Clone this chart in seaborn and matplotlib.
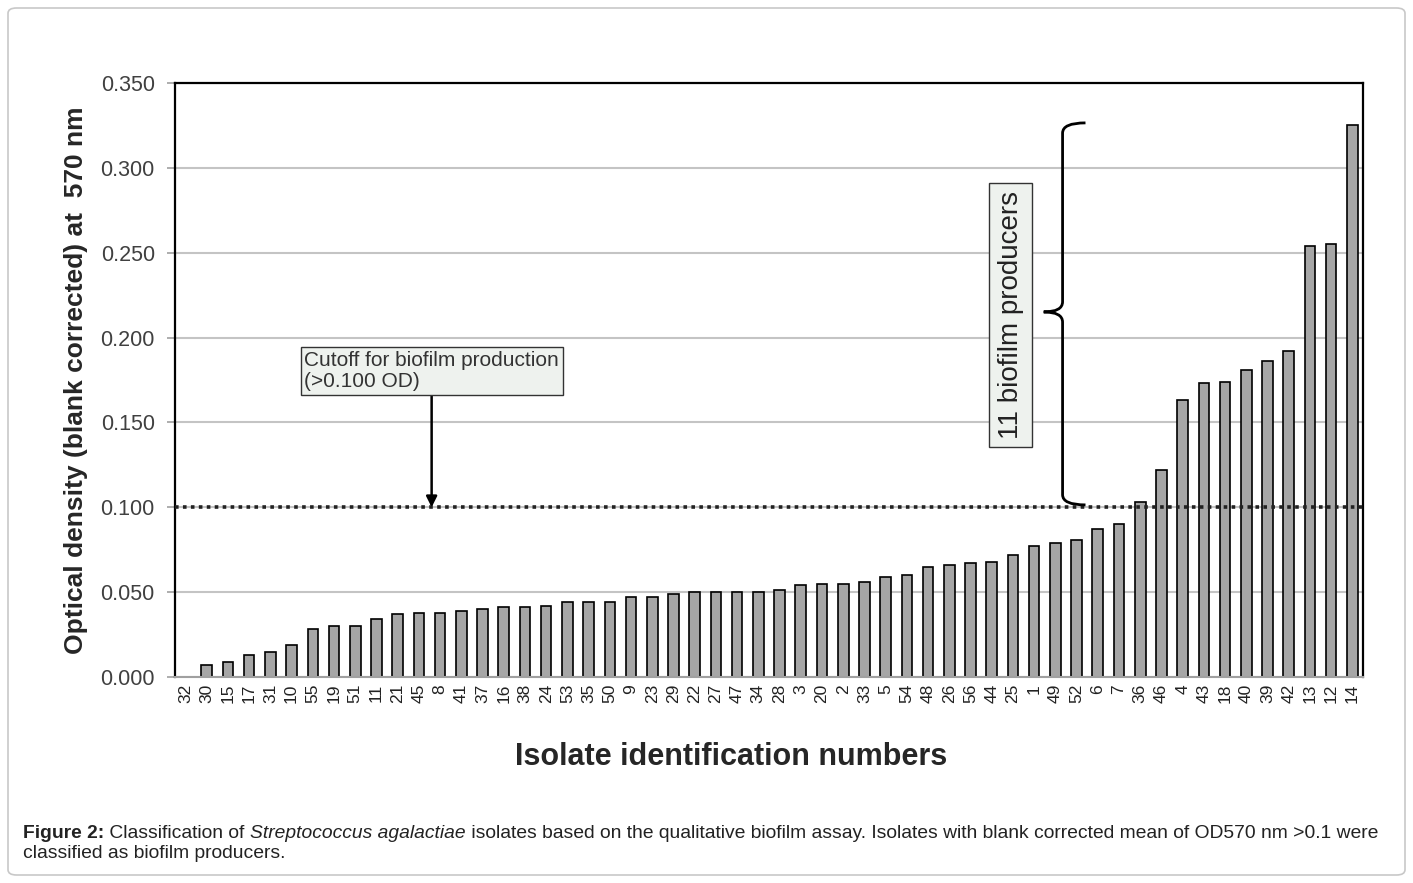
import matplotlib
matplotlib.use("Agg")
import matplotlib.pyplot as plt
import pandas as pd
import seaborn as sns
from matplotlib.patches import FancyBboxPatch, PathPatch
from matplotlib.path import Path

# isolate ids in plotted order and their blank-corrected OD570
isolates = ["32", "30", "15", "17", "31", "10", "55", "19", "51", "11", "21", "45", "8", "41",
            "37", "16", "38", "24", "53", "35", "50", "9", "23", "29", "22", "27", "47", "34",
            "28", "3", "20", "2", "33", "5", "54", "48", "26", "56", "44", "25", "1", "49",
            "52", "6", "7", "36", "46", "4", "43", "18", "40", "39", "42", "13", "12", "14"]
od570 = [0.000, 0.007, 0.009, 0.013, 0.015, 0.019, 0.028, 0.030, 0.030, 0.034, 0.037, 0.038,
         0.038, 0.039, 0.040, 0.041, 0.041, 0.042, 0.044, 0.044, 0.044, 0.047, 0.047, 0.049,
         0.050, 0.050, 0.050, 0.050, 0.051, 0.054, 0.055, 0.055, 0.056, 0.059, 0.060, 0.065,
         0.066, 0.067, 0.068, 0.072, 0.077, 0.079, 0.081, 0.087, 0.090, 0.103, 0.122, 0.163,
         0.173, 0.174, 0.181, 0.186, 0.192, 0.254, 0.255, 0.325]
cutoff = 0.100
y_ticks = [0.000, 0.050, 0.100, 0.150, 0.200, 0.250, 0.300, 0.350]

df = pd.DataFrame({"isolate": isolates, "od": od570})

sns.set_style("white")
plt.rcParams["font.family"] = ["Liberation Sans", "DejaVu Sans"]

fig = plt.figure(figsize=(14.13, 8.83), dpi=100)
ax = fig.add_axes([0.1238, 0.2333, 0.8408, 0.6727])

# light frame around the whole figure panel
fig.patches.append(FancyBboxPatch((8 / 1413, 8 / 883), 1397 / 1413, 867 / 883,
                                  boxstyle="round,pad=0,rounding_size=0.006",
                                  transform=fig.transFigure, facecolor="none",
                                  edgecolor="#c8c8c8", linewidth=1.2))

ax.set_axisbelow(True)
ax.yaxis.grid(True, color="#c4c4c4", linewidth=1.5)
sns.barplot(data=df, x="isolate", y="od", order=isolates, color="#a6a6a6",
            edgecolor="black", linewidth=1.2, width=0.5, saturation=1, ax=ax)

ax.axhline(cutoff, color="#222222", linestyle=(0, (1, 1.2)), linewidth=2.6, zorder=5)

ax.set_ylim(0, 0.35)
ax.set_xlim(-0.5, len(isolates) - 0.5)
ax.set_yticks(y_ticks)
ax.set_yticklabels([f"{v:.3f}" for v in y_ticks], fontsize=15.5, color="#404040")
ax.tick_params(axis="x", labelrotation=90, labelsize=12.5, length=0, pad=5,
               labelcolor="#222222")
ax.tick_params(axis="y", left=True, length=6, width=1.2, color="#a0a0a0", pad=8.5)

for side in ["left", "top", "right"]:
    ax.spines[side].set_color("black")
    ax.spines[side].set_linewidth(1.6)
ax.spines["bottom"].set_color("#a0a0a0")
ax.spines["bottom"].set_linewidth(1.5)

ax.set_xlabel("")
ax.set_ylabel("Optical density (blank corrected) at  570 nm", fontsize=19,
              fontweight="bold", labelpad=9)
fig.text(731 / 1413, 1 - 757 / 883, "Isolate identification numbers", fontsize=22,
         fontweight="bold", ha="center", va="center")

# cutoff annotation
ax.annotate("Cutoff for biofilm production\n(>0.100 OD)", xy=(11.6, cutoff),
            xytext=(11.6, 0.1805), fontsize=15, ha="center", va="center",
            multialignment="left", linespacing=1.15, color="#333333",
            bbox=dict(boxstyle="square,pad=0.18", facecolor="#eef2ee", edgecolor="#333333",
                      linewidth=1.0),
            arrowprops=dict(arrowstyle="-|>", color="black", linewidth=1.8,
                            mutation_scale=16, shrinkA=0, shrinkB=0),
            zorder=6)

# producers label box
ax.text(38.9, 0.2133, "11 biofilm producers", rotation=90, fontsize=20,
        ha="center", va="center", color="#222222",
        bbox=dict(boxstyle="square,pad=0.3", facecolor="#eef2ee", edgecolor="#333333",
                  linewidth=1.0), zorder=6)

# curly brace
xv, xt, xe = 41.34, 40.45, 42.42
yt, yb, ym = 0.3265, 0.1014, 0.2151
c = 0.006
verts = [(xe, yt), (xv, yt), (xv, yt - c),
         (xv, ym + c), (xv, ym), (xt, ym),
         (xv, ym), (xv, ym - c),
         (xv, yb + c), (xv, yb), (xe, yb)]
codes = [Path.MOVETO, Path.CURVE3, Path.CURVE3,
         Path.LINETO, Path.CURVE3, Path.CURVE3,
         Path.CURVE3, Path.CURVE3,
         Path.LINETO, Path.CURVE3, Path.CURVE3]
ax.add_patch(PathPatch(Path(verts, codes), facecolor="none", edgecolor="black",
                       linewidth=2.0, zorder=6, clip_on=False))

# caption with mixed styles
fig.canvas.draw()
renderer = fig.canvas.get_renderer()
pieces = [("Figure 2:", "bold", "normal"), (" Classification of ", "normal", "normal"),
          ("Streptococcus agalactiae", "normal", "italic"),
          (" isolates based on the qualitative biofilm assay. Isolates with blank corrected mean"
           " of OD570 nm >0.1 were", "normal", "normal")]
x0 = 23 / 1413
y1 = 1 - 833 / 883
for txt, weight, style in pieces:
    t = fig.text(x0, y1, txt, fontsize=13.9, fontweight=weight, fontstyle=style,
                 ha="left", va="center", color="#222222")
    bb = t.get_window_extent(renderer)
    x0 += bb.width / 1413
fig.text(23 / 1413, 1 - 853 / 883, "classified as biofilm producers.", fontsize=13.9,
         ha="left", va="center", color="#222222")

fig.savefig("out.png", dpi=100)
